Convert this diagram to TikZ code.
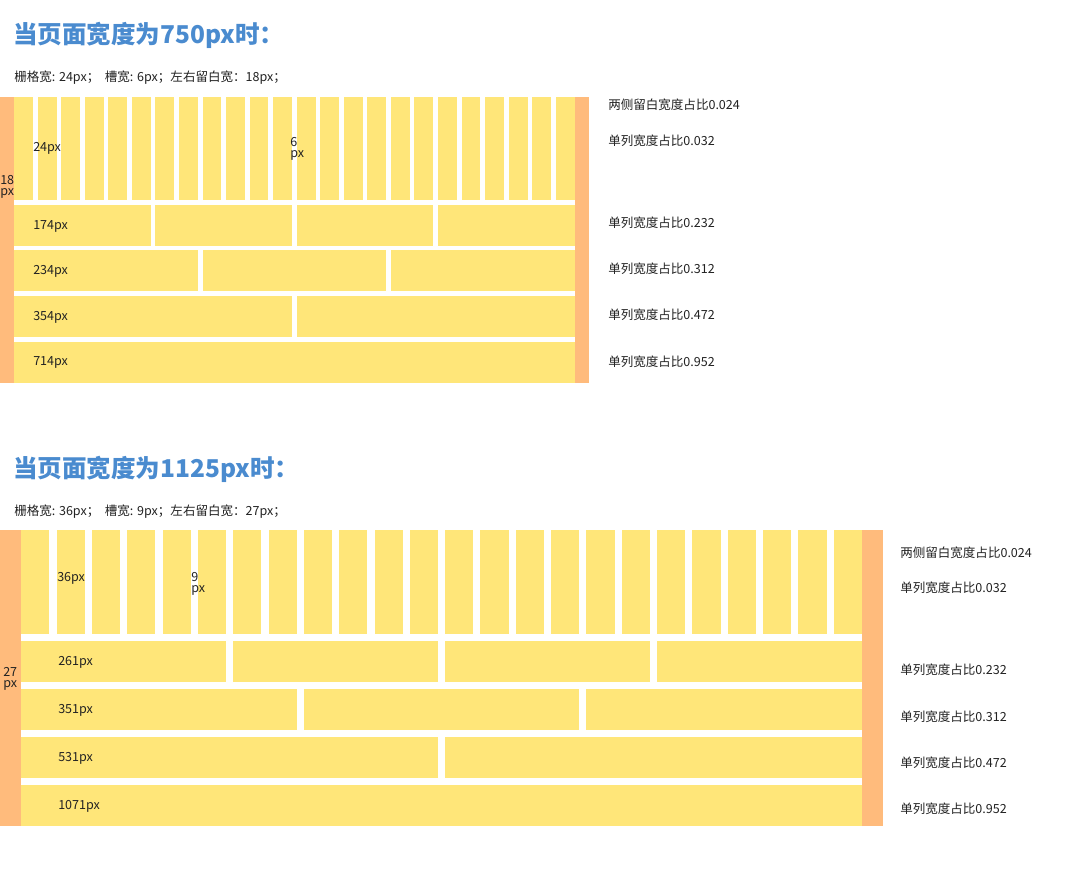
\documentclass[tikz,border=0pt]{standalone}
\usepackage{fontspec}
\newfontfamily\cjk{Noto Sans CJK SC}
\definecolor{gy}{HTML}{FFE679}
\definecolor{go}{HTML}{FFBB7C}
\definecolor{gb}{HTML}{4A8BCF}
\definecolor{gt}{HTML}{222222}
\newcommand\mygrid[6]{% y0, margin, col, gutter, row1 height, row height
  \pgfmathsetmacro\yend{#1+#5+4*(#6+#4)}
  \pgfmathsetmacro\xr{#2+24*#3+23*#4}
  \fill[go] (0,#1) rectangle (#2,\yend);
  \fill[go] (\xr,#1) rectangle ({\xr+#2},\yend);
  \foreach \i in {0,...,23}
    \fill[gy] ({#2+\i*(#3+#4)},#1) rectangle ++(#3,#5);
  \foreach \k [count=\r] in {6,8,12,24}{
    \pgfmathtruncatemacro\nn{24/\k-1}
    \pgfmathsetmacro\yt{#1+#5+#4+(\r-1)*(#6+#4)}
    \foreach \j in {0,...,\nn}
      \fill[gy] ({#2+\j*\k*(#3+#4)},\yt) rectangle ++({\k*#3+(\k-1)*#4},#6);
  }
}
\begin{document}
\begin{tikzpicture}[x=0.75pt,y=-0.75pt,
  lbl/.style={font=\cjk\fontsize{9.4}{11}\selectfont,text=gt,inner sep=0pt,anchor=west},
  stack/.style={font=\cjk\fontsize{9.4}{8.4}\selectfont,text=gt,inner sep=0pt,anchor=north west,align=left},
  ttl/.style={font=\cjk\bfseries\fontsize{18.4}{20}\selectfont,text=gb,inner sep=0pt,anchor=west}]
\useasboundingbox[fill=white] (0,0) rectangle (1080,873);

% ---------- 750px ----------
\node[ttl] (t1) at (13,35) {当页面宽度为750px时：};
\node[lbl] (s1) at (14,78) {栅格宽: 24px；\ \ 槽宽: 6px；左右留白宽：18px；};
\mygrid{97}{14.13}{18.84}{4.71}{103}{41}
\node[lbl] (a1) at (33,148) {24px};
\node[stack] (a2) at (290,137) {6\\px};
\node[stack] (a3) at (0,175) {18\\px};
\node[lbl] (a4) at (33,226) {174px};
\node[lbl] (a5) at (33,271.5) {234px};
\node[lbl] (a6) at (33,317) {354px};
\node[lbl] (a7) at (33,362.5) {714px};
\node[lbl] (r1) at (608,105) {两侧留白宽度占比0.024};
\node[lbl] (r2) at (608,140.5) {单列宽度占比0.032};
\node[lbl] (r3) at (608,222.5) {单列宽度占比0.232};
\node[lbl] (r4) at (608,268.5) {单列宽度占比0.312};
\node[lbl] (r5) at (608,315) {单列宽度占比0.472};
\node[lbl] (r6) at (608,361.5) {单列宽度占比0.952};

% ---------- 1125px ----------
\node[ttl] (t2) at (13,469) {当页面宽度为1125px时：};
\node[lbl] (s2) at (14,512) {栅格宽: 36px；\ \ 槽宽: 9px；左右留白宽：27px；};
\mygrid{530}{21.2}{28.26}{7.07}{104}{41}
\node[lbl] (b1) at (57,578) {36px};
\node[stack] (b2) at (191,572) {9\\px};
\node[stack] (b3) at (3,667) {27\\px};
\node[lbl] (b4) at (58,662) {261px};
\node[lbl] (b5) at (58,710) {351px};
\node[lbl] (b6) at (58,758) {531px};
\node[lbl] (b7) at (58,806) {1071px};
\node[lbl] (q1) at (900,552.5) {两侧留白宽度占比0.024};
\node[lbl] (q2) at (900,587.5) {单列宽度占比0.032};
\node[lbl] (q3) at (900,670) {单列宽度占比0.232};
\node[lbl] (q4) at (900,716.5) {单列宽度占比0.312};
\node[lbl] (q5) at (900,762.5) {单列宽度占比0.472};
\node[lbl] (q6) at (900,809) {单列宽度占比0.952};
\end{tikzpicture}
\end{document}
